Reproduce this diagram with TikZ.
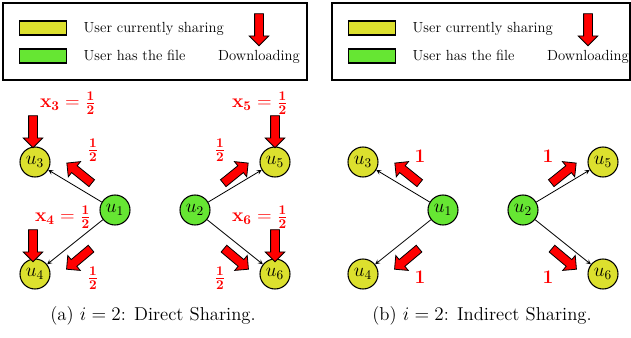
\documentclass[tikz,border=0pt]{standalone}
\usepackage{tikz}
\usepackage{xcolor}
\usetikzlibrary{shapes.arrows}

\begin{document}
\begin{tikzpicture}[x=0.75pt,y=-0.75pt,
  usernode/.style={circle,draw,line width=0.8pt,minimum size=22.5pt,inner sep=0pt,font=\Large},
  dlarrow/.style={single arrow,draw,fill=red,line width=0.6pt,minimum height=24pt,minimum width=14pt,inner sep=3pt,single arrow head extend=4pt,sloped,allow upside down},
  swatch/.style={draw,line width=0.9pt,minimum width=35pt,minimum height=10.5pt,inner sep=0pt},
  legtext/.style={font=\fontsize{11}{13}\selectfont},
  redlbl/.style={text=red,font=\Large}]
\definecolor{sharing}{HTML}{DCE02E}
\definecolor{hasfile}{HTML}{66E633}
\useasboundingbox (0,0) rectangle (631,337);
% legends
\foreach \ox/\bw/\side in {0/304/l,329/298/r}
{ \draw[line width=1pt] (3+\ox,3) rectangle (3+\ox+\bw,80);
  \node [swatch,fill=sharing] (\side sw1) at (43+\ox,28) {};
  \node [swatch,fill=hasfile] (\side sw2) at (43+\ox,56) {};
  \node [legtext,anchor=west] (\side tx1) at (79+\ox,29) {User currently sharing};
  \node [legtext,anchor=west] (\side tx2) at (79+\ox,55) {User has the file};
  \coordinate (\side top) at (259+\ox,11);
  \coordinate (\side tip) at (259+\ox,44);
  \path (\side top) -- (\side tip) node[dlarrow,midway] (\side dl) {};
  \node [legtext] (\side tx3) at (259+\ox,57) {Downloading};}
% the two panels
\foreach \ox/\pn in {0/a,328/b}
{ \node [usernode,fill=hasfile] (\pn1) at (115+\ox,210) {$u_1$};
  \node [usernode,fill=hasfile] (\pn2) at (195+\ox,210) {$u_2$};
  \node [usernode,fill=sharing] (\pn3) at (35+\ox,162) {$u_3$};
  \node [usernode,fill=sharing] (\pn4) at (35+\ox,274) {$u_4$};
  \node [usernode,fill=sharing] (\pn5) at (275+\ox,162) {$u_5$};
  \node [usernode,fill=sharing] (\pn6) at (275+\ox,274) {$u_6$};
  \draw[-stealth,line width=0.6pt] (\pn1) -- (\pn3);
  \draw[-stealth,line width=0.6pt] (\pn1) -- (\pn4);
  \draw[-stealth,line width=0.6pt] (\pn2) -- (\pn5);
  \draw[-stealth,line width=0.6pt] (\pn2) -- (\pn6);
  \coordinate (\pn t3) at (94+\ox,185);  \coordinate (\pn h3) at (68+\ox,164);
  \coordinate (\pn t4) at (93+\ox,247);  \coordinate (\pn h4) at (68+\ox,268);
  \coordinate (\pn t5) at (221+\ox,185); \coordinate (\pn h5) at (247+\ox,164);
  \coordinate (\pn t6) at (222+\ox,247); \coordinate (\pn h6) at (247+\ox,268);
  \path (\pn t3) -- (\pn h3) node[dlarrow,midway] (\pn d3) {};
  \path (\pn t4) -- (\pn h4) node[dlarrow,midway] (\pn d4) {};
  \path (\pn t5) -- (\pn h5) node[dlarrow,midway] (\pn d5) {};
  \path (\pn t6) -- (\pn h6) node[dlarrow,midway] (\pn d6) {};}
% direct sharing: downloads and rates
\foreach \n/\x/\y in {3/33/113,4/33/227,5/275/113,6/275/227}
{ \coordinate (ax\n) at (\x,\y);
  \coordinate (bx\n) at (\x,\y+33);
  \path (ax\n) -- (bx\n) node[dlarrow,midway] (dx\n) {};}
\node [redlbl] (lx3) at (68,103) {$\mathbf{x_3=\frac{1}{2}}$};
\node [redlbl] (lx4) at (63,217) {$\mathbf{x_4=\frac{1}{2}}$};
\node [redlbl] (lx5) at (260,103) {$\mathbf{x_5=\frac{1}{2}}$};
\node [redlbl] (lx6) at (260,217) {$\mathbf{x_6=\frac{1}{2}}$};
\foreach \n/\x/\y in {3/93/150,4/93/278,5/220/150,6/220/278}
  {\node [redlbl] (lr\n) at (\x,\y) {$\mathbf{\frac{1}{2}}$};}
% indirect sharing: rates
\foreach \n/\x/\y in {3/420/156,4/420/277,5/548/156,6/548/277}
  {\node [redlbl] (ln\n) at (\x,\y) {$\mathbf{1}$};}
% captions
\node [font=\fontsize{14}{17}\selectfont] (capa) at (153,316) {(a) $i=2$: Direct Sharing.};
\node [font=\fontsize{14}{17}\selectfont] (capb) at (482,316) {(b) $i=2$: Indirect Sharing.};
\end{tikzpicture}
\end{document}
